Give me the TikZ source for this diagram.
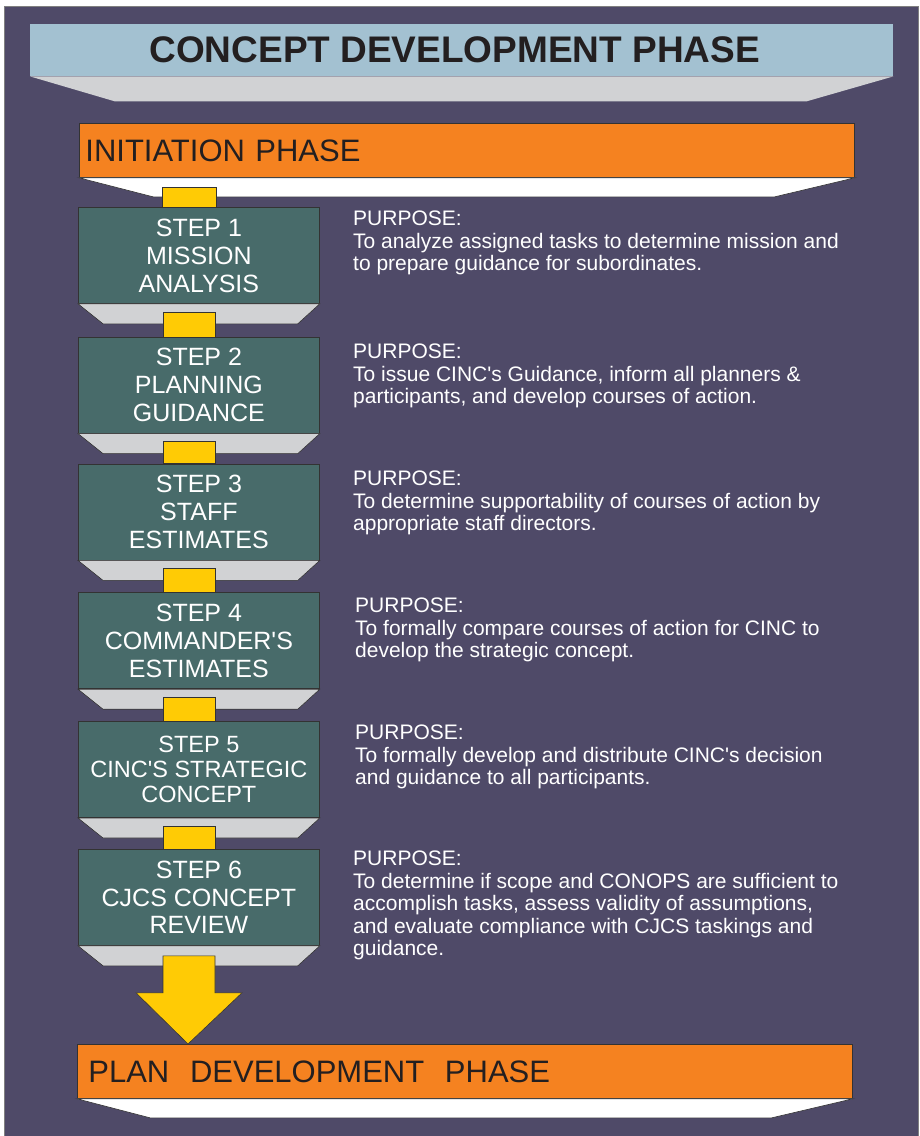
\documentclass[tikz,border=0pt]{standalone}
\usepackage{fontspec}
\setmainfont{Liberation Sans}
\usetikzlibrary{positioning, calc}

\definecolor{bgpurple}{HTML}{4F4A68}
\definecolor{titleblue}{HTML}{A3C1D1}
\definecolor{shadegray}{HTML}{D1D2D4}
\definecolor{phaseorange}{HTML}{F58220}
\definecolor{stepteal}{HTML}{486B6A}
\definecolor{linkyellow}{HTML}{FFCB05}
\definecolor{edgegray}{HTML}{333333}
\definecolor{inkblack}{HTML}{231F20}
\newcommand{\apos}{\textquotesingle}

\begin{document}
\begin{tikzpicture}[
        x=1pt, y=-1pt,
        base/.style={draw=edgegray, line width=0.8pt, inner sep=0pt},
        titlebar/.style={fill=titleblue, inner sep=0pt, minimum width=863pt, minimum height=52pt, text=inkblack, font=\fontsize{37}{40}\selectfont\bfseries},
        phase/.style={base, fill=phaseorange, minimum height=54pt, align=left, text=inkblack, font=\fontsize{31}{34}\selectfont},
        stepbox/.style={base, fill=stepteal, minimum width=241pt, minimum height=96pt, align=center, text=white, font=\fontsize{25}{28}\selectfont},
        shade/.style={draw=edgegray, line width=0.6pt, fill=shadegray},
        link/.style={draw=edgegray, line width=0.6pt, fill=linkyellow},
        purpose/.style={anchor=north west, inner sep=0pt, align=left, text=white, font=\fontsize{21}{22.5}\selectfont}
    ]

    \useasboundingbox (0,0) rectangle (920,1136);
    \draw[draw=gray, fill=bgpurple] (4,6) rectangle (918,1136);

    % Header bars
    \node[titlebar, anchor=north west] (title) at (30,24) {CONCEPT DEVELOPMENT PHASE\hspace*{14pt}};
    \fill[shadegray] (title.south west) -- (title.south east) -- ($(title.south east)+(-87,25)$) -- ($(title.south west)+(85,25)$) -- cycle;

    \node[phase, anchor=north west, inner xsep=6pt, text width=763pt] (initiation) at (79,123) {INITIATION PHASE};
    \draw[shade, fill=white] (initiation.south west) -- (initiation.south east) -- ($(initiation.south east)+(-80,19)$) -- ($(initiation.south west)+(74,19)$) -- cycle;

    % Steps
    \node[stepbox, anchor=north west] (box1) at (78,207) {STEP 1\\MISSION\\ANALYSIS};
    \node[stepbox, below=33pt of box1] (box2) {STEP 2\\PLANNING\\GUIDANCE};
    \node[stepbox, below=30pt of box2] (box3) {STEP 3\\STAFF\\ESTIMATES};
    \node[stepbox, below=32pt of box3] (box4) {STEP 4\\COMMANDER\apos S\\ESTIMATES};
    \node[stepbox, below=32pt of box4, font=\fontsize{23.5}{25}\selectfont] (box5) {STEP 5\\CINC\apos S STRATEGIC\\CONCEPT};
    \node[stepbox, below=31pt of box5, font=\fontsize{25}{27.5}\selectfont] (box6) {STEP 6\\CJCS CONCEPT\\REVIEW};

    \node[phase, anchor=north west, inner xsep=11pt, text width=753pt] (plan) at (77,1044) {PLAN\ \ DEVELOPMENT\ \ PHASE};
    \draw[shade, fill=white] (plan.south west) -- (plan.south east) -- ($(plan.south east)+(-81,19)$) -- ($(plan.south west)+(73,19)$) -- cycle;

    % Shades and links
    \foreach \i in {1,...,6} {
        \draw[shade] (box\i.south west) -- (box\i.south east) -- ($(box\i.south east)+(-22,20)$) -- ($(box\i.south west)+(25,20)$) -- cycle;
    }
    \draw[link] ($(box1.north west)+(84,-20)$) rectangle ($(box1.north west)+(138,0)$);
    \foreach \i [evaluate=\i as \j using int(\i-1)] in {2,...,6} {
        \draw[link] ($(box\j.south west)+(85,8)$) rectangle ($(box\i.north west)+(137,0)$);
    }
    \draw[link] ($(box6.south west)+(85,10)$) -- ($(box6.south west)+(85,47)$) -- ($(box6.south west)+(58,47)$)
        -- ($(plan.north west)+(111,0)$) -- ($(box6.south west)+(164,47)$) -- ($(box6.south west)+(137,47)$)
        -- ($(box6.south west)+(137,10)$) -- cycle;

    % Purposes
    \node[purpose] (purpose1) at (353,211) {PURPOSE:\\To analyze assigned tasks to determine mission and\\to prepare guidance for subordinates.};
    \node[purpose] (purpose2) at (353,344) {PURPOSE:\\To issue CINC\apos s Guidance, inform all planners \&\\participants, and develop courses of action.};
    \node[purpose] (purpose3) at (353,471) {PURPOSE:\\To determine supportability of courses of action by\\appropriate staff directors.};
    \node[purpose] (purpose4) at (355,598) {PURPOSE:\\To formally compare courses of action for CINC to\\develop the strategic concept.};
    \node[purpose] (purpose5) at (355,725) {PURPOSE:\\To formally develop and distribute CINC\apos s decision\\and guidance to all participants.};
    \node[purpose] (purpose6) at (353,851) {PURPOSE:\\To determine if scope and CONOPS are sufficient to\\accomplish tasks, assess validity of assumptions,\\and evaluate compliance with CJCS taskings and\\guidance.};

\end{tikzpicture}
\end{document}
